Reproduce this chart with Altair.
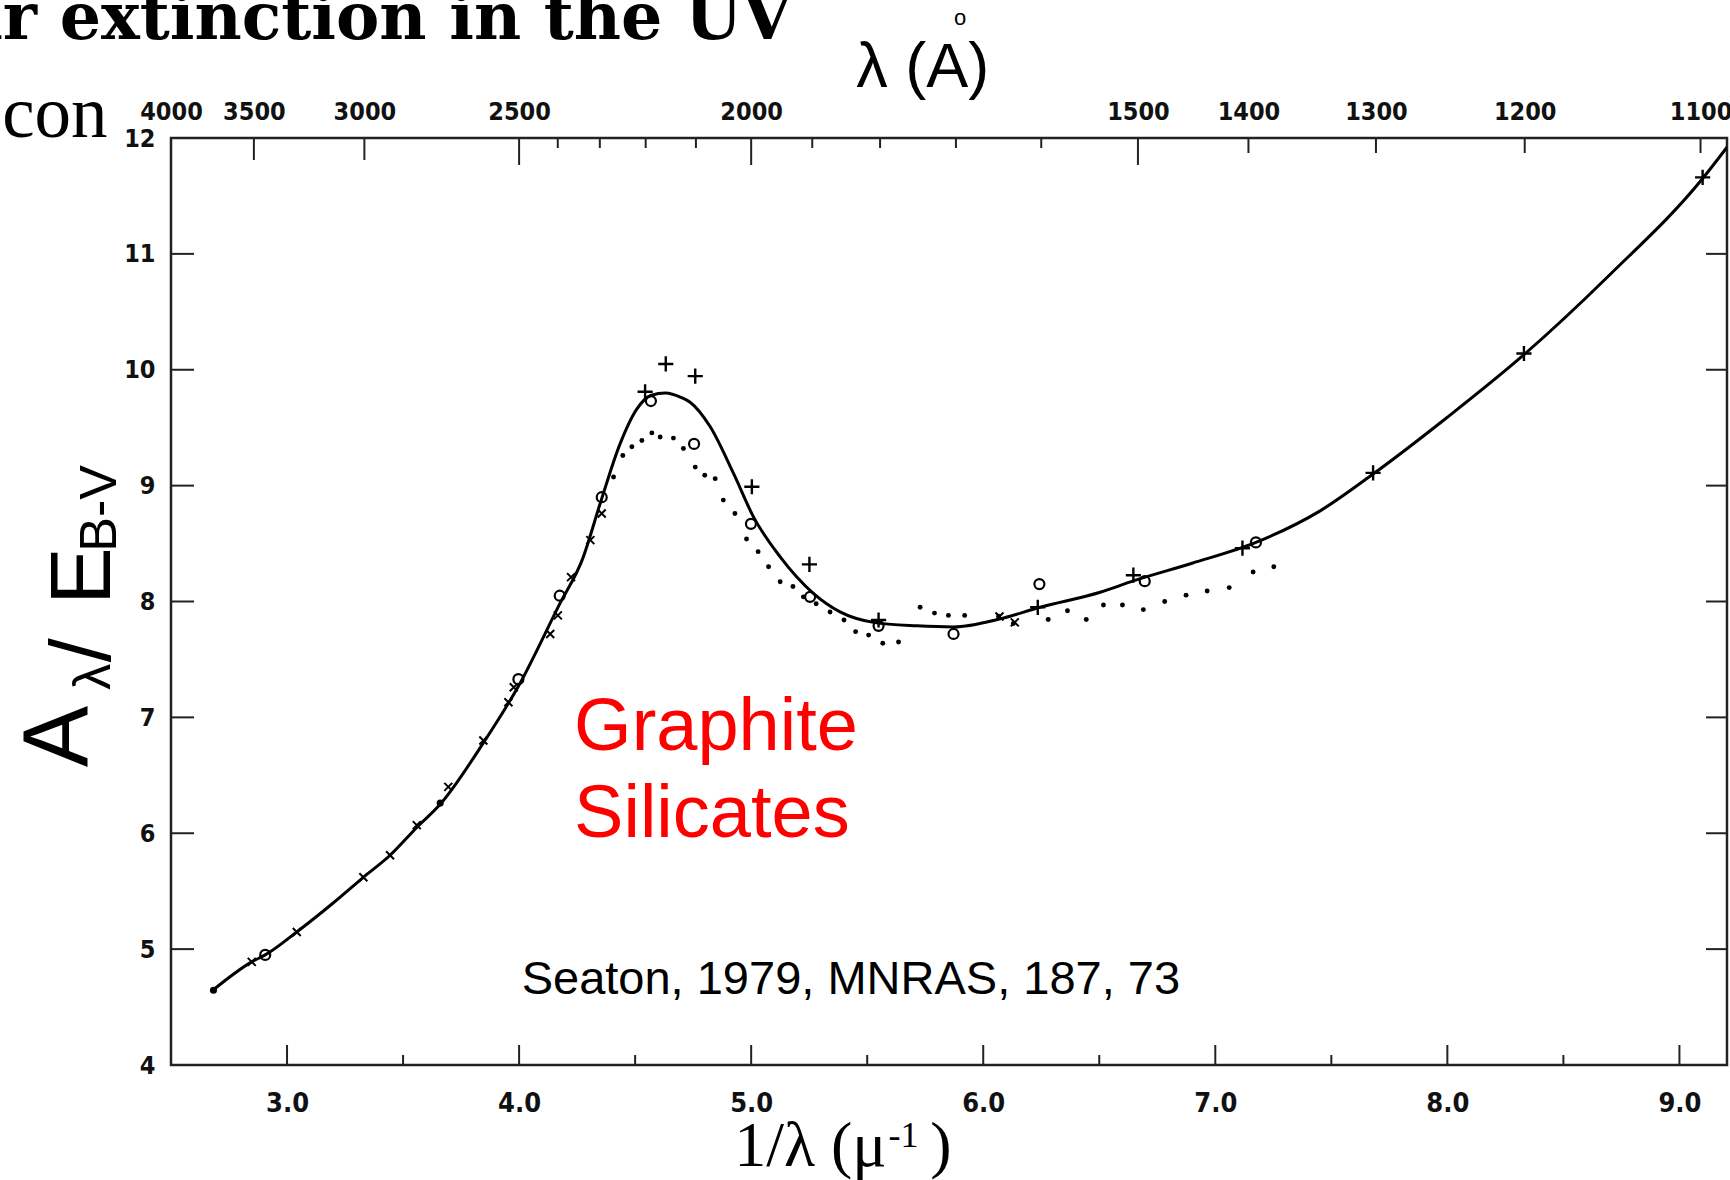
import altair as alt
import pandas as pd

# ---------------- data ----------------
# solid curve: 1/lambda (micron^-1) vs A_lambda / E(B-V)
curve_x = [2.68, 2.848, 2.906, 3.042, 3.2, 3.329, 3.444, 3.559, 3.66, 3.846, 4.0,
           4.175, 4.274, 4.35, 4.435, 4.507, 4.57, 4.63, 4.70, 4.737, 4.823, 4.924,
           5.01, 5.125, 5.268, 5.383, 5.527, 5.714, 5.872, 6.073, 6.245, 6.504,
           6.65, 6.9, 7.175, 7.45, 7.68, 8.0, 8.33, 8.7, 9.10, 9.205]
curve_y = [4.645, 4.89, 4.95, 5.148, 5.40, 5.62, 5.81, 6.05, 6.25, 6.78, 7.28,
           7.98, 8.37, 8.85, 9.36, 9.66, 9.78, 9.80, 9.76, 9.72, 9.51, 9.105,
           8.73, 8.385, 8.07, 7.91, 7.82, 7.79, 7.78, 7.85, 7.95, 8.08,
           8.18, 8.33, 8.51, 8.78, 9.10, 9.59, 10.13, 10.82, 11.65, 11.92]

# "+" symbols
plus_x = [4.543, 4.632, 4.759, 5.003, 5.251, 5.549, 6.235, 6.647, 7.117, 7.68, 8.33, 9.10]
plus_y = [9.81, 10.05, 9.945, 8.99, 8.32, 7.84, 7.95, 8.227, 8.46, 9.11, 10.14, 11.66]

# open circles
circ_x = [2.906, 3.997, 4.175, 4.356, 4.568, 4.754, 4.999, 5.254, 5.549, 5.872, 6.242, 6.696, 7.175]
circ_y = [4.95, 7.33, 8.05, 8.90, 9.73, 9.36, 8.67, 8.04, 7.79, 7.72, 8.15, 8.175, 8.51]

# small "x" symbols along the curve
cross_x = [2.848, 3.042, 3.329, 3.444, 3.559, 3.695, 3.846, 3.954, 3.977, 4.134,
           4.167, 4.224, 4.307, 4.356, 6.07, 6.136]
cross_y = [4.89, 5.148, 5.62, 5.81, 6.07, 6.40, 6.80, 7.13, 7.26, 7.72,
           7.88, 8.21, 8.53, 8.76, 7.87, 7.82]

# filled symbols
fill_x = [2.683, 3.66]
fill_y = [4.645, 6.26]

# dotted series
dot_x = [4.407, 4.447, 4.486, 4.529, 4.572, 4.608, 4.665, 4.708, 4.759, 4.80, 4.845,
         4.88, 4.93, 4.98, 5.03, 5.075, 5.125, 5.18, 5.225, 5.28, 5.34, 5.40, 5.45,
         5.506, 5.567, 5.635, 5.728, 5.79, 5.85, 5.92, 6.066, 6.13, 6.28, 6.363,
         6.444, 6.518, 6.60, 6.69, 6.782, 6.874, 6.965, 7.06, 7.163, 7.252]
dot_y = [9.075, 9.26, 9.335, 9.39, 9.455, 9.42, 9.41, 9.32, 9.16, 9.09, 9.06,
         8.875, 8.76, 8.54, 8.43, 8.30, 8.17, 8.13, 8.04, 7.98, 7.91, 7.84, 7.74,
         7.71, 7.64, 7.65, 7.95, 7.90, 7.88, 7.88, 7.873, 7.81, 7.845, 7.92,
         7.845, 7.97, 7.97, 7.93, 8.0, 8.055, 8.09, 8.12, 8.255, 8.30]

# axes
x_ticks = [3, 4, 5, 6, 7, 8, 9]
x_minor = [3.5, 4.5, 5.5, 6.5, 7.5, 8.5]
y_ticks = [4, 5, 6, 7, 8, 9, 10, 11, 12]
y_inner = [5, 6, 7, 8, 9, 10, 11]
top_labels = [4000, 3500, 3000, 2500, 2000, 1500, 1400, 1300, 1200, 1100]
top_long = [2500, 2000, 1500]
top_mid = [3500, 3000]
top_short = [1400, 1300, 1200, 1100]
top_minor = [2400, 2300, 2200, 2100, 1900, 1800, 1700, 1600]

# ---------------- chart ----------------
W, H = 1556, 927
xs = alt.Scale(domain=[2.5, 9.205], nice=False, zero=False)
ys = alt.Scale(domain=[4, 12], nice=False, zero=False)
TICKFONT = "DejaVu Sans Condensed, Liberation Sans Narrow, Liberation Sans"


def xy_df(xv, yv):
    return pd.DataFrame({"x": xv, "y": yv})


def inv(lams):
    return pd.DataFrame({"x": [1e4 / l for l in lams]})


curve = alt.Chart(xy_df(curve_x, curve_y)).mark_line(
    color="black", strokeWidth=3, interpolate="monotone", clip=True
).encode(
    x=alt.X("x:Q", scale=xs, title=None,
            axis=alt.Axis(orient="bottom", values=x_ticks, format=".1f", ticks=False,
                          tickSize=0, domain=False, grid=False, labelPadding=25,
                          labelFont=TICKFONT, labelFontSize=27, labelFontWeight="bold",
                          labelColor="#111", labelFlush=False, labelOverlap=False)),
    y=alt.Y("y:Q", scale=ys, title=None,
            axis=alt.Axis(orient="left", values=y_ticks, format="d", ticks=False,
                          tickSize=0, domain=False, grid=False, labelPadding=16,
                          labelFont=TICKFONT, labelFontSize=25, labelFontWeight="bold",
                          labelColor="#111", labelFlush=False, labelOverlap=False)),
)


def pts(xv, yv, **kw):
    return alt.Chart(xy_df(xv, yv)).mark_point(**kw).encode(
        x=alt.X("x:Q", scale=xs, axis=None),
        y=alt.Y("y:Q", scale=ys, axis=None),
    )


dots = pts(dot_x, dot_y, shape="circle", filled=True, size=24, color="black", opacity=1)
plus = pts(plus_x, plus_y, shape="M-1,0L1,0M0,-1L0,1", size=230, strokeWidth=2.4,
           color="black", filled=False, opacity=1)
circ = pts(circ_x, circ_y, shape="circle", size=100, strokeWidth=2.2, color="black",
           filled=False, opacity=1)
cross = pts(cross_x, cross_y, shape="M-1,-1L1,1M-1,1L1,-1", size=64, strokeWidth=2,
            color="black", filled=False, opacity=1)
filled = pts(fill_x, fill_y, shape="circle", filled=True, size=50, color="black", opacity=1)

# inward ticks
RULE = dict(color="#222", strokeWidth=2)
bot_major = alt.Chart(pd.DataFrame({"x": x_ticks})).mark_rule(**RULE).encode(
    x=alt.X("x:Q", scale=xs, axis=None), y=alt.value(H), y2=alt.value(H - 20))
bot_minor = alt.Chart(pd.DataFrame({"x": x_minor})).mark_rule(**RULE).encode(
    x=alt.X("x:Q", scale=xs, axis=None), y=alt.value(H), y2=alt.value(H - 10))
left_t = alt.Chart(pd.DataFrame({"y": y_inner})).mark_rule(**RULE).encode(
    y=alt.Y("y:Q", scale=ys, axis=None), x=alt.value(0), x2=alt.value(23))
right_t = alt.Chart(pd.DataFrame({"y": y_inner})).mark_rule(**RULE).encode(
    y=alt.Y("y:Q", scale=ys, axis=None), x=alt.value(W), x2=alt.value(W - 21))
top_l = alt.Chart(inv(top_long)).mark_rule(**RULE).encode(
    x=alt.X("x:Q", scale=xs, axis=None), y=alt.value(0), y2=alt.value(27))
top_m = alt.Chart(inv(top_mid)).mark_rule(**RULE).encode(
    x=alt.X("x:Q", scale=xs, axis=None), y=alt.value(0), y2=alt.value(22))
top_s = alt.Chart(inv(top_short)).mark_rule(**RULE).encode(
    x=alt.X("x:Q", scale=xs, axis=None), y=alt.value(0), y2=alt.value(15))
top_n = alt.Chart(inv(top_minor)).mark_rule(**RULE).encode(
    x=alt.X("x:Q", scale=xs, title=None,
            axis=alt.Axis(orient="top", values=[1e4 / l for l in top_labels],
                          labelExpr="format(round(10000/datum.value), 'd')",
                          ticks=False, tickSize=0, domain=False, grid=False,
                          labelPadding=14, labelFont=TICKFONT, labelFontSize=25,
                          labelFontWeight="bold", labelColor="#111",
                          labelFlush=False, labelOverlap=False)),
    y=alt.value(0), y2=alt.value(10))


def label(txt, x, y, **kw):
    return alt.Chart(pd.DataFrame({"x": [x], "y": [y]})).mark_text(text=txt, **kw).encode(
        x=alt.X("x:Q", scale=xs, axis=None), y=alt.Y("y:Q", scale=ys, axis=None))


SANS = "Liberation Sans, Arial"
SERIF = "Liberation Serif, Times New Roman"
ROT = dict(font=SANS, angle=270, align="left", baseline="alphabetic", color="black")
texts = [
    label("Graphite", 4.237, 6.716, font=SANS, fontSize=74, color="#ff0000",
          align="left", baseline="alphabetic"),
    label("Silicates", 4.237, 5.968, font=SANS, fontSize=74, color="#ff0000",
          align="left", baseline="alphabetic"),
    label("Seaton, 1979, MNRAS, 187, 73", 4.011, 4.616, font=SANS, fontSize=47,
          color="black", align="left", baseline="alphabetic"),
    # y-axis title pieces (rotated)
    label("A", 2.1434, 6.57, fontSize=92, **ROT),
    label("λ", 2.2377, 7.238, fontSize=52, **ROT),
    label("/", 2.2377, 7.476, fontSize=86, **ROT),
    label("E", 2.2377, 7.972, fontSize=86, **ROT),
    label("B-V", 2.262, 8.43, fontSize=52, **ROT),
    # top axis title
    label("λ (A)", 5.4524, 12.439, font=SANS, fontSize=63, align="left",
          baseline="alphabetic", color="black"),
    label("o", 5.9005, 12.975, font=SANS, fontSize=22, align="center",
          baseline="alphabetic", color="black"),
    # bottom axis title
    label("1/λ (μ", 4.9267, 3.13, font=SERIF, fontSize=64, align="left",
          baseline="alphabetic", color="black"),
    label("-1", 5.592, 3.29, font=SERIF, fontSize=36, align="left",
          baseline="alphabetic", color="black"),
    label(")", 5.7713, 3.13, font=SERIF, fontSize=64, align="left",
          baseline="alphabetic", color="black"),
    # slide title fragments cut by the page edge
    label("lar extinction in the UV", 5.177, 12.857, font="DejaVu Serif", fontSize=65,
          fontWeight="bold", align="right", baseline="alphabetic", color="black"),
    label("con", 1.7723, 12.0104, font=SERIF, fontSize=73, align="left",
          baseline="alphabetic", color="black"),
]

chart = alt.layer(
    bot_major, bot_minor, left_t, right_t, top_l, top_m, top_s, top_n,
    dots, curve, plus, circ, cross, filled, *texts
).resolve_axis(x="independent", y="independent").properties(
    width=W, height=H,
    autosize=alt.AutoSizeParams(type="none"),
    padding={"left": 171, "top": 138, "right": 3, "bottom": 115},
    background="white",
).configure_view(stroke="#222", strokeWidth=2.5)

chart.save("out.html", embed_options={"renderer": "svg", "actions": False})
